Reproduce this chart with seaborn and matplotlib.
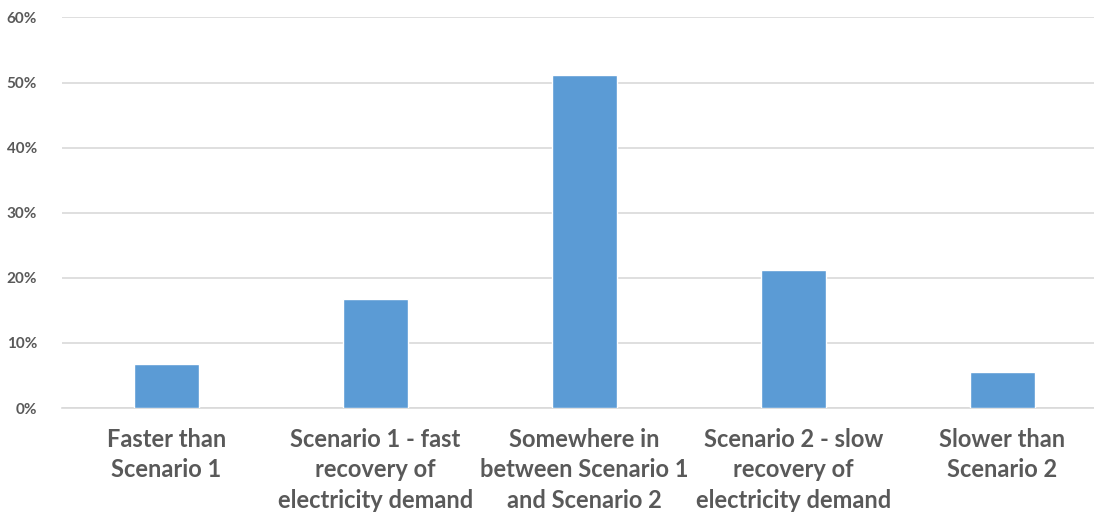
import matplotlib
matplotlib.use("Agg")
import matplotlib.pyplot as plt
import seaborn as sns
import pandas as pd
from matplotlib.ticker import PercentFormatter

categories = [
    "Faster than\nScenario 1",
    "Scenario 1 - fast\nrecovery of\nelectricity demand",
    "Somewhere in\nbetween Scenario 1\nand Scenario 2",
    "Scenario 2 - slow\nrecovery of\nelectricity demand",
    "Slower than\nScenario 2",
]
shares = [0.0675, 0.168, 0.512, 0.212, 0.056]
y_ticks = [0, 0.1, 0.2, 0.3, 0.4, 0.5, 0.6]

df = pd.DataFrame({"category": categories, "share": shares})

sns.set_style("white")
plt.rcParams["font.family"] = ["Lato", "DejaVu Sans"]

fig = plt.figure(figsize=(10.94, 5.12), dpi=100)
ax = fig.add_axes([0.0567, 0.203, 0.955, 0.763])

sns.barplot(data=df, x="category", y="share", color="#5B9BD5", width=0.31,
            saturation=1, ax=ax, zorder=3)

ax.set_ylim(0, 0.6)
ax.set_yticks(y_ticks)
ax.yaxis.set_major_formatter(PercentFormatter(1.0, decimals=0))
ax.grid(axis="y", color="#D9D9D9", linewidth=1.2, zorder=0)
ax.set_xlabel("")
ax.set_ylabel("")

for side in ["top", "left", "right"]:
    ax.spines[side].set_visible(False)
ax.spines["bottom"].set_color("#D9D9D9")
ax.spines["bottom"].set_linewidth(1.2)

ax.tick_params(axis="y", length=0, pad=18, labelsize=11, labelcolor="#595959")
ax.tick_params(axis="x", length=0, pad=14, labelsize=17, labelcolor="#595959")
for lbl in ax.get_yticklabels():
    lbl.set_fontweight("bold")
for lbl in ax.get_xticklabels():
    lbl.set_fontweight("bold")
    lbl.set_linespacing(1.42)
    lbl.set_verticalalignment("top")

plt.savefig("out.png", dpi=100)
plt.close()
